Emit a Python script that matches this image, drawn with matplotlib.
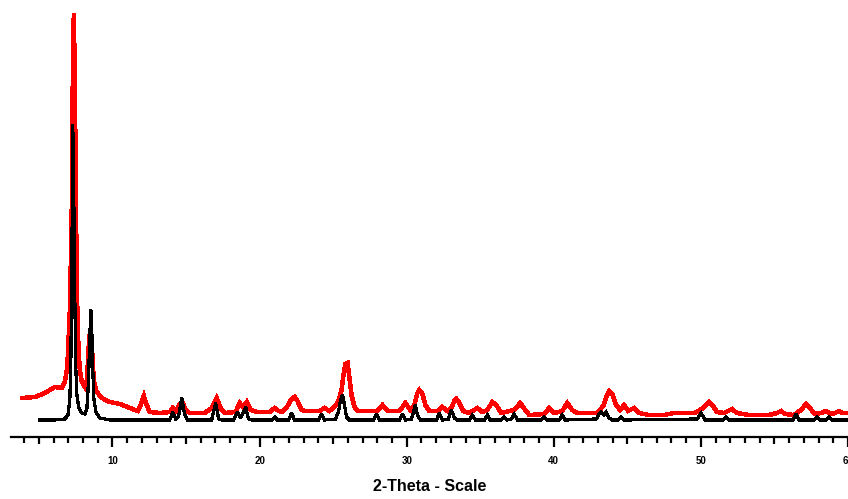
import matplotlib
matplotlib.use("Agg")
import matplotlib.pyplot as plt
import numpy as np
from matplotlib.ticker import MultipleLocator

# red pattern (upper trace)
red_2theta = [3.84, 4.73, 5.40, 5.74, 6.08, 6.56, 6.76, 6.90, 6.97, 7.03, 7.10, 7.17, 7.24, 7.30, 7.37, 7.44,
              7.51, 7.58, 7.64, 7.71, 7.78, 7.92, 8.12, 8.26, 8.32, 8.39, 8.46, 8.53, 8.60, 8.66, 8.73, 8.87,
              9.14, 9.48, 9.82, 10.50, 11.18, 11.72, 11.92, 12.13, 12.33, 12.53, 13.21, 13.89, 14.09, 14.30,
              14.57, 14.77, 14.98, 15.25, 16.27, 16.74, 17.08, 17.35, 17.62, 18.37, 18.64, 18.85, 19.12, 19.39,
              19.87, 20.68, 21.02, 21.29, 21.56, 21.90, 22.17, 22.38, 22.58, 22.85, 23.12, 24.07, 24.41, 24.75,
              25.16, 25.36, 25.57, 25.70, 25.84, 25.98, 26.11, 26.25, 26.45, 26.65, 28.01, 28.35, 28.69, 29.51,
              29.91, 30.25, 30.52, 30.73, 30.86, 31.07, 31.27, 31.54, 32.09, 32.42, 32.76, 33.04, 33.24, 33.38,
              33.58, 33.85, 34.26, 34.80, 35.14, 35.48, 35.82, 36.09, 36.43, 36.97, 37.31, 37.72, 38.06, 38.33,
              39.35, 39.69, 40.03, 40.57, 40.91, 41.25, 41.59, 42.95, 43.36, 43.56, 43.76, 43.97, 44.24, 44.51,
              44.78, 45.05, 45.46, 45.80, 46.48, 47.50, 48.18, 49.53, 49.87, 50.21, 50.55, 50.82, 51.09, 51.57,
              52.11, 52.45, 53.27, 54.62, 55.17, 55.44, 55.71, 56.32, 56.80, 57.14, 57.41, 57.75, 58.16, 58.49,
              58.83, 59.11, 59.38, 59.65, 59.92]
red_counts = [39, 40, 44, 47, 50, 49, 55, 67, 82, 102, 127, 177, 237, 357, 423, 357,
              237, 147, 107, 82, 67, 55, 50, 57, 72, 92, 104, 105, 92, 72, 57, 47,
              41, 37, 35, 33, 29, 26, 32, 41, 32, 25, 24, 25, 29, 26,
              33, 34, 27, 24, 24, 29, 39, 29, 24, 25, 34, 30, 35, 27,
              25, 25, 29, 26, 25, 31, 38, 40, 36, 27, 26, 26, 29, 26,
              31, 36, 47, 62, 73, 74, 59, 42, 30, 26, 26, 32, 26, 26,
              34, 27, 32, 44, 47, 43, 32, 26, 26, 30, 26, 29, 36, 38,
              34, 26, 24, 29, 25, 27, 35, 32, 24, 26, 27, 34, 27, 22,
              23, 29, 24, 26, 34, 27, 24, 24, 31, 40, 46, 43, 32, 27,
              32, 26, 29, 24, 22, 22, 24, 24, 26, 30, 35, 31, 25, 24,
              28, 24, 22, 22, 24, 26, 23, 22, 27, 33, 29, 23, 24, 26,
              23, 24, 26, 24, 24]

# black pattern (lower trace)
black_2theta = [5.06, 6.08, 6.76, 6.97, 7.10, 7.17, 7.24, 7.30, 7.37, 7.44, 7.51, 7.58, 7.71, 7.92, 8.12, 8.26,
                8.32, 8.39, 8.46, 8.53, 8.60, 8.66, 8.73, 8.87, 9.14, 9.82, 13.89, 14.09, 14.30, 14.50, 14.71,
                14.91, 15.11, 16.74, 17.01, 17.22, 17.42, 18.24, 18.51, 18.71, 18.91, 19.05, 19.25, 19.46, 20.82,
                21.02, 21.22, 21.97, 22.17, 22.38, 24.01, 24.21, 24.41, 25.16, 25.36, 25.50, 25.64, 25.77, 25.91,
                26.11, 27.74, 27.94, 28.15, 29.51, 29.71, 29.91, 30.32, 30.46, 30.59, 30.73, 30.93, 32.02, 32.22,
                32.42, 32.83, 33.04, 33.24, 33.44, 34.26, 34.46, 34.67, 35.28, 35.48, 35.68, 36.43, 36.63, 36.84,
                37.11, 37.31, 37.52, 39.15, 39.35, 39.55, 40.37, 40.57, 40.78, 42.88, 43.08, 43.22, 43.42, 43.56,
                43.76, 43.97, 44.37, 44.58, 44.78, 49.74, 50.01, 50.28, 51.50, 51.71, 51.91, 56.25, 56.46, 56.66,
                57.68, 57.88, 58.09, 58.49, 58.70, 58.90, 59.92]
black_counts = [17, 17, 18, 22, 37, 77, 177, 312, 237, 137, 67, 42, 29, 24, 23, 29,
                42, 67, 102, 127, 102, 67, 39, 25, 19, 17, 17, 25, 18, 21, 39,
                22, 17, 17, 34, 18, 17, 17, 25, 19, 25, 30, 18, 17, 17,
                20, 17, 17, 24, 17, 17, 23, 17, 18, 25, 37, 42, 32, 20,
                17, 17, 23, 17, 17, 23, 17, 18, 25, 32, 22, 17, 17, 24,
                17, 18, 27, 19, 17, 17, 22, 17, 17, 22, 17, 17, 20, 17,
                18, 23, 17, 17, 20, 17, 17, 22, 17, 18, 23, 25, 22, 25,
                19, 17, 17, 20, 17, 18, 24, 17, 17, 20, 17, 17, 23, 17,
                17, 20, 17, 17, 20, 17, 17]

label_ticks = [10, 20, 30, 40, 50, 60]

fig = plt.figure(figsize=(8.48, 4.99), dpi=100)
ax = fig.add_axes([11 / 848, 62 / 499, 837 / 848, 437 / 499])

ax.plot(red_2theta, red_counts, color="#ff0000", lw=2.5, solid_joinstyle="miter", antialiased=False)
ax.plot(black_2theta, black_counts, color="black", lw=1.6, solid_joinstyle="miter", antialiased=False)

ax.set_xlim(3.1, 59.95)
ax.set_ylim(0, 437)

for s in ["top", "right", "left"]:
    ax.spines[s].set_visible(False)
ax.spines["bottom"].set_linewidth(1.6)
ax.set_yticks([])

major = np.arange(5, 61, 5)
ax.xaxis.set_minor_locator(MultipleLocator(1))
ax.tick_params(axis="x", which="major", direction="out", length=7, width=1.6, pad=7)
ax.tick_params(axis="x", which="minor", direction="out", length=4, width=1.6)
ax.set_xticks(major)
ax.set_xticklabels([str(int(t)) if t in label_ticks else "" for t in major],
                   fontsize=7, fontweight="bold", family="Liberation Sans")
for tick, val in zip(ax.xaxis.get_major_ticks(), major):
    tick.tick1line.set_markersize(7.5 if val % 10 == 0 else 5)

ax.set_xlabel("2-Theta - Scale", fontsize=11.5, fontweight="bold", family="Liberation Sans", labelpad=9)

fig.savefig("out.png", dpi=100)
plt.close(fig)
